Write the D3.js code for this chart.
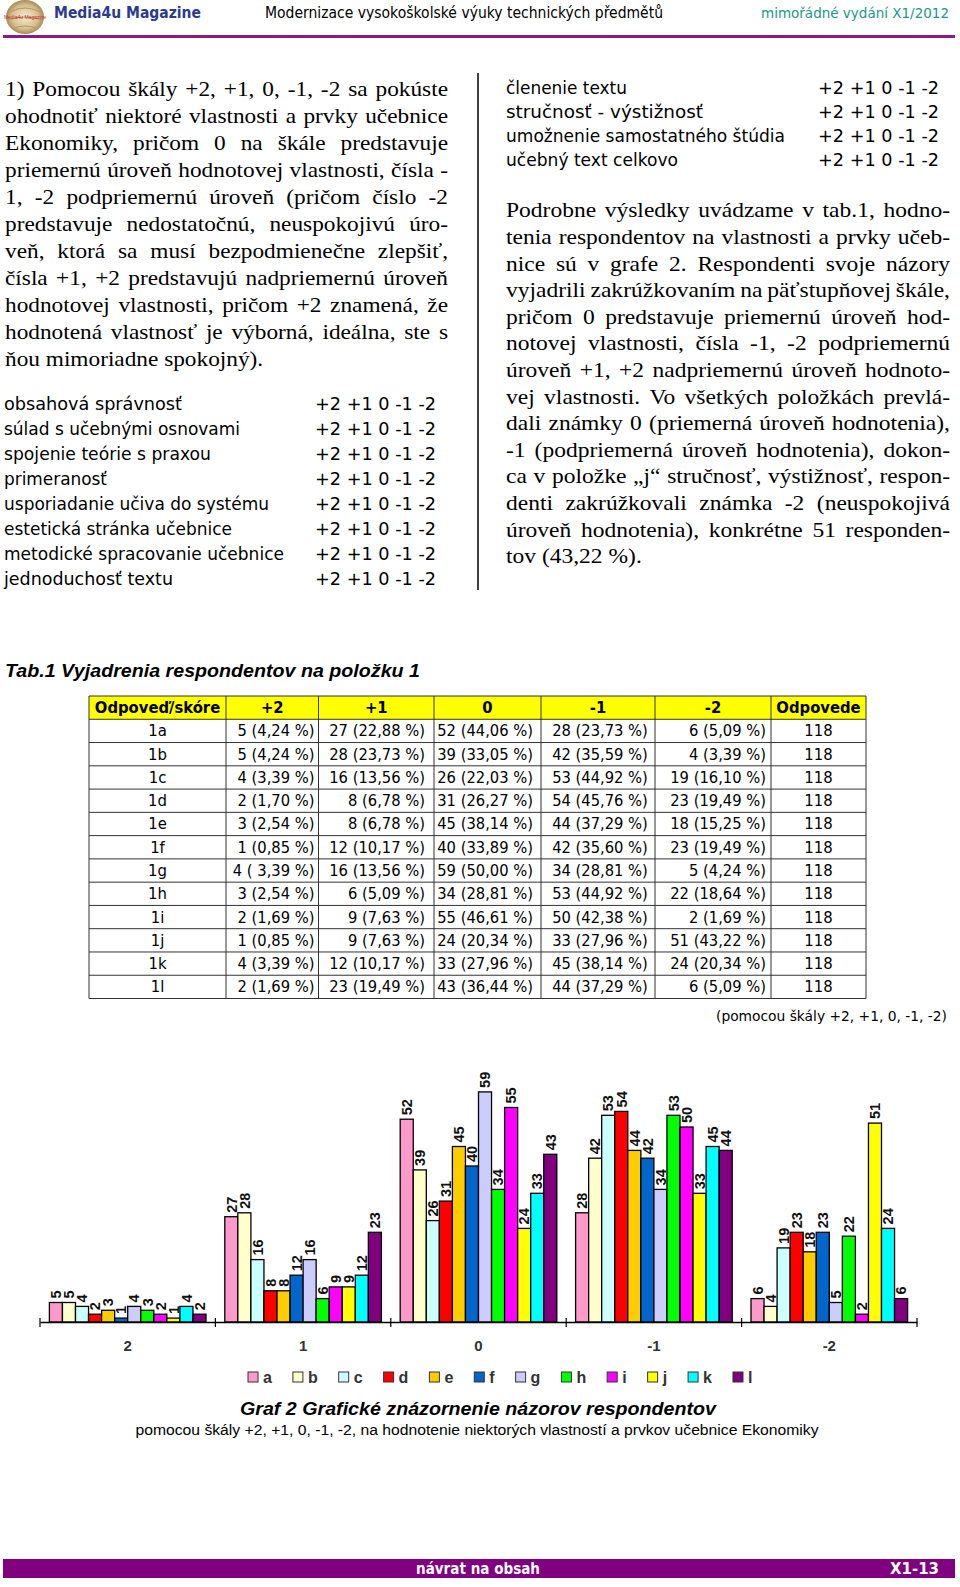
<!DOCTYPE html>
<html><head><meta charset="utf-8">
<script src="https://cdn.jsdelivr.net/npm/d3@7"></script>
<style>body{margin:0;background:#fff}svg{display:block}</style>
</head><body>
<script>
// ---------- DATA ----------
const categories = ["2", "1", "0", "-1", "-2"];
const seriesKeys = ["a","b","c","d","e","f","g","h","i","j","k","l"];
const seriesColors = ["#FF99CC","#FFFFCC","#CCFFFF","#FF0000","#FFCC00","#0066CC","#CCCCFF","#00FF00","#FF00FF","#FFFF00","#00FFFF","#800080"];
const valuesPlus2  = [5,5,4,2,3,1,4,3,2,1,4,2];
const valuesPlus1  = [27,28,16,8,8,12,16,6,9,9,12,23];
const valuesZero   = [52,39,26,31,45,40,59,34,55,24,33,43];
const valuesMinus1 = [28,42,53,54,44,42,34,53,50,33,45,44];
const valuesMinus2 = [6,4,19,23,18,23,5,22,2,51,24,6];
const pctPlus2  = ["4,24","4,24","3,39","1,70","2,54","0,85"," 3,39","2,54","1,69","0,85","3,39","1,69"];
const pctPlus1  = ["22,88","23,73","13,56","6,78","6,78","10,17","13,56","5,09","7,63","7,63","10,17","19,49"];
const pctZero   = ["44,06","33,05","22,03","26,27","38,14","33,89","50,00","28,81","46,61","20,34","27,96","36,44"];
const pctMinus1 = ["23,73","35,59","44,92","45,76","37,29","35,60","28,81","44,92","42,38","27,96","38,14","37,29"];
const pctMinus2 = ["5,09","3,39","16,10","19,49","15,25","19,49","4,24","18,64","1,69","43,22","20,34","5,09"];
const tableRowLabels = ["1a","1b","1c","1d","1e","1f","1g","1h","1i","1j","1k","1l"];
const tableHeader = ["Odpoveď/skóre","+2","+1","0","-1","-2","Odpovede"];
const respondents = [118,118,118,118,118,118,118,118,118,118,118,118];
const leftParagraph = [
 "1) Pomocou škály +2, +1, 0, -1, -2 sa pokúste",
 "ohodnotiť niektoré vlastnosti a prvky učebnice",
 "Ekonomiky, pričom 0 na škále predstavuje",
 "priemernú úroveň hodnotovej vlastnosti, čísla -",
 "1, -2 podpriemernú úroveň (pričom číslo -2",
 "predstavuje nedostatočnú, neuspokojivú úro-",
 "veň, ktorá sa musí bezpodmienečne zlepšiť,",
 "čísla +1, +2 predstavujú nadpriemernú úroveň",
 "hodnotovej vlastnosti, pričom +2 znamená, že",
 "hodnotená vlastnosť je výborná, ideálna, ste s",
 "ňou mimoriadne spokojný)."
];
const rightParagraph = [
 "Podrobne výsledky uvádzame v tab.1, hodno-",
 "tenia respondentov na vlastnosti a prvky učeb-",
 "nice sú v grafe 2. Respondenti svoje názory",
 "vyjadrili zakrúžkovaním na päťstupňovej škále,",
 "pričom 0 predstavuje priemernú úroveň hod-",
 "notovej vlastnosti, čísla -1, -2 podpriemernú",
 "úroveň +1, +2 nadpriemernú úroveň hodnoto-",
 "vej vlastnosti. Vo všetkých položkách prevlá-",
 "dali známky 0 (priemerná úroveň hodnotenia),",
 "-1 (podpriemerná úroveň hodnotenia), dokon-",
 "ca v položke „j“ stručnosť, výstižnosť, respon-",
 "denti zakrúžkovali známka -2 (neuspokojivá",
 "úroveň hodnotenia), konkrétne 51 responden-",
 "tov (43,22 %)."
];
const leftItems = ["obsahová správnosť","súlad s učebnými osnovami","spojenie teórie s praxou","primeranosť","usporiadanie učiva do systému","estetická stránka učebnice","metodické spracovanie učebnice","jednoduchosť textu"];
const leftItemWidths = [178,236,207,103,265,228,280,169];
const rightItems = ["členenie textu","stručnosť - výstižnosť","umožnenie samostatného štúdia","učebný text celkovo"];
const rightItemWidths = [121,197,279,172];
const scaleText = "+2 +1 0 -1 -2";

// ---------- SETUP ----------
const W = 960, H = 1587;
const svg = d3.select("body").append("svg").attr("width", W).attr("height", H);
svg.append("rect").attr("width", W).attr("height", H).attr("fill", "#fff");
const SERIF = "'Liberation Serif','Times New Roman',serif";
const TAHOMA = "'DejaVu Sans',Verdana,sans-serif";
const ARIAL = "'Liberation Sans',Arial,sans-serif";

function squeeze(sel, f) {
  sel.each(function(){ const w = this.getComputedTextLength(); d3.select(this).attr("textLength", w*f).attr("lengthAdjust","spacingAndGlyphs"); });
  return sel;
}

// ---------- HEADER ----------
const defs = svg.append("defs");
const rg = defs.append("radialGradient").attr("id","logoG");
rg.append("stop").attr("offset","0%").attr("stop-color","#f4ead2");
rg.append("stop").attr("offset","70%").attr("stop-color","#d6bf8e");
rg.append("stop").attr("offset","100%").attr("stop-color","#a88a55");
svg.append("ellipse").attr("cx",25).attr("cy",17).attr("rx",19).attr("ry",17).attr("fill","url(#logoG)");
svg.append("path").attr("d","M10,12 Q25,4 40,12 M8,20 Q25,14 42,20 M14,28 Q25,24 36,28").attr("stroke","#b59765").attr("fill","none").attr("stroke-width",1);
svg.append("text").attr("x",25).attr("y",19).attr("text-anchor","middle").attr("font-family",ARIAL).attr("font-size",5).attr("fill","#c0302a").text("Media4u Magazine");
svg.append("text").attr("x",54).attr("y",17.5).attr("font-family",TAHOMA).attr("font-weight","bold").attr("font-size",15).attr("fill","#2b3a8f").attr("textLength",147).attr("lengthAdjust","spacingAndGlyphs").text("Media4u Magazine");
svg.append("text").attr("x",265).attr("y",17.5).attr("font-family",TAHOMA).attr("font-size",15).attr("fill","#000").attr("textLength",398).attr("lengthAdjust","spacingAndGlyphs").text("Modernizace vysokoškolské výuky technických předmětů");
svg.append("text").attr("x",949).attr("y",17.5).attr("text-anchor","end").attr("font-family",TAHOMA).attr("font-size",14).attr("fill","#17998a").attr("textLength",188).attr("lengthAdjust","spacingAndGlyphs").text("mimořádné vydání X1/2012");
svg.append("line").attr("x1",3).attr("x2",955).attr("y1",36.5).attr("y2",36.5).attr("stroke","#8a1a8a").attr("stroke-width",3);

// ---------- JUSTIFIED PARAGRAPHS ----------
function drawJustified(lines, x, y0, lh, width, k) {
  const g = svg.append("g").attr("transform", `translate(${x},0) scale(${k},1)`)
    .attr("font-family", SERIF).attr("font-size", 21).attr("fill","#000");
  const lw = width / k;
  lines.forEach((line, i) => {
    const t = g.append("text").attr("y", y0 + i*lh);
    if (i === lines.length - 1) { t.attr("x", 0).text(line); return; }
    const words = line.split(" ");
    const widths = words.map(w => { const tmp = g.append("text").text(w); const wd = tmp.node().getComputedTextLength(); tmp.remove(); return wd; });
    const gap = (lw - d3.sum(widths)) / (words.length - 1);
    let cx = 0;
    words.forEach((w, j) => { t.append("tspan").attr("x", cx).text(w); cx += widths[j] + gap; });
  });
}
drawJustified(leftParagraph, 5, 96, 27, 443, 1.11);
drawJustified(rightParagraph, 506, 217.5, 26.6, 444, 1.12);

// divider
svg.append("line").attr("x1",478).attr("x2",478).attr("y1",73).attr("y2",590).attr("stroke","#000").attr("stroke-width",1.5);

// ---------- ITEM LISTS ----------
function drawList(items, widths, x, xs, y0, lh) {
  const g = svg.append("g").attr("font-family", TAHOMA).attr("font-size", 18).attr("fill","#000");
  items.forEach((it, i) => {
    g.append("text").attr("x", x).attr("y", y0 + i*lh).attr("textLength", widths[i]).attr("lengthAdjust","spacingAndGlyphs").text(it);
    g.append("text").attr("x", xs).attr("y", y0 + i*lh).attr("textLength", 121).attr("lengthAdjust","spacingAndGlyphs").text(scaleText);
  });
}
drawList(leftItems, leftItemWidths, 4, 315, 410, 25);
drawList(rightItems, rightItemWidths, 506, 818, 93.5, 24);

// ---------- TABLE ----------
svg.append("text").attr("x",5).attr("y",677).attr("font-family",ARIAL).attr("font-weight","bold").attr("font-style","italic").attr("font-size",17.5).attr("textLength",415).attr("lengthAdjust","spacingAndGlyphs").text("Tab.1 Vyjadrenia respondentov na položku 1");

const colEdges = [89, 226, 318.5, 434, 541, 655, 771, 866];
const rowTop = 696, rowH = 23.27;
const tg = svg.append("g").attr("font-family", TAHOMA).attr("font-size", 15.5);
tg.append("rect").attr("x",colEdges[0]).attr("y",rowTop).attr("width",colEdges[7]-colEdges[0]).attr("height",rowH).attr("fill","#FFFF00");
const counts = [valuesPlus2, valuesPlus1, valuesZero, valuesMinus1, valuesMinus2];
const pcts = [pctPlus2, pctPlus1, pctZero, pctMinus1, pctMinus2];
const aligns = ["end","end","end","middle","end"];
const pads = [4, 9, 8, 0, 5];
tableHeader.forEach((h, c) => {
  squeeze(tg.append("text").attr("x",(colEdges[c]+colEdges[c+1])/2).attr("y",rowTop+rowH/2+5.5).attr("text-anchor","middle").attr("font-weight","bold").text(h), 0.955);
});
tableRowLabels.forEach((lab, r) => {
  const yb = rowTop + (r+1)*rowH + rowH/2 + 5.5;
  squeeze(tg.append("text").attr("x",(colEdges[0]+colEdges[1])/2).attr("y",yb).attr("text-anchor","middle").text(lab), 0.96);
  counts.forEach((arr, c) => {
    const txt = arr[r] + " (" + pcts[c][r] + " %)";
    const a = aligns[c];
    const xx = a === "middle" ? (colEdges[c+1]+colEdges[c+2])/2 + 2 : colEdges[c+2] - pads[c];
    squeeze(tg.append("text").attr("x",xx).attr("y",yb).attr("text-anchor",a).text(txt), 0.95);
  });
  squeeze(tg.append("text").attr("x",(colEdges[6]+colEdges[7])/2).attr("y",yb).attr("text-anchor","middle").text(respondents[r]), 0.96);
});
for (let r = 0; r <= 13; r++) tg.append("line").attr("x1",colEdges[0]).attr("x2",colEdges[7]).attr("y1",rowTop+r*rowH).attr("y2",rowTop+r*rowH).attr("stroke","#333").attr("stroke-width",1);
colEdges.forEach(x => tg.append("line").attr("x1",x).attr("x2",x).attr("y1",rowTop).attr("y2",rowTop+13*rowH).attr("stroke","#333").attr("stroke-width",1));

svg.append("text").attr("x",947).attr("y",1021).attr("text-anchor","end").attr("font-family",TAHOMA).attr("font-size",14).attr("textLength",231).attr("lengthAdjust","spacingAndGlyphs").text("(pomocou škály +2, +1, 0, -1, -2)");

// ---------- CHART ----------
const groups = categories.map((c, i) => ({ cat: c, vals: counts[i] }));
const x0 = d3.scaleBand().domain(categories).range([40, 917]);
const x1 = d3.scaleBand().domain(seriesKeys).range([0, x0.bandwidth()]).paddingOuter(0.72);
const y = d3.scaleLinear().domain([0, 60]).range([1322, 1088]);
const color = d3.scaleOrdinal().domain(seriesKeys).range(seriesColors);

const chart = svg.append("g");
const gg = chart.selectAll("g.grp").data(groups).join("g").attr("class","grp").attr("transform", d => `translate(${x0(d.cat)},0)`);
gg.selectAll("rect").data(d => d.vals.map((v, i) => ({ key: seriesKeys[i], v })))
  .join("rect")
  .attr("x", d => x1(d.key)).attr("width", x1.bandwidth())
  .attr("y", d => y(d.v)).attr("height", d => y(0) - y(d.v))
  .attr("fill", d => color(d.key)).attr("stroke", "#000").attr("stroke-width", 1.3);
gg.selectAll("text.lbl").data(d => d.vals.map((v, i) => ({ key: seriesKeys[i], v })))
  .join("text").attr("class","lbl")
  .attr("transform", d => `translate(${x1(d.key) + x1.bandwidth()/2},${y(d.v) - 4}) rotate(-90)`)
  .attr("dy","0.36em").attr("text-anchor","start")
  .attr("font-family", ARIAL).attr("font-weight","bold").attr("font-size",14.5).attr("fill","#111")
  .text(d => d.v);

const axis = chart.append("g").attr("transform", `translate(0,${y(0)})`)
  .call(d3.axisBottom(x0).tickSize(0).tickSizeOuter(0).tickPadding(18));
axis.select(".domain").attr("stroke","#000").attr("stroke-width",1.3);
axis.selectAll("text").attr("font-family", ARIAL).attr("font-weight","bold").attr("font-size",15).attr("fill","#333");
const bounds = categories.map(c => x0(c)).concat([x0.range()[1]]);
axis.selectAll("line.bt").data(bounds).join("line").attr("class","bt")
  .attr("x1", d => d).attr("x2", d => d).attr("y1", -4).attr("y2", 5).attr("stroke","#000").attr("stroke-width",1.2);

const lg = chart.append("g").attr("font-family", ARIAL).attr("font-weight","bold").attr("font-size",16).attr("fill","#333");
let lx = 248;
seriesKeys.forEach((k) => {
  lg.append("rect").attr("x", lx).attr("y", 1372).attr("width", 10).attr("height", 10).attr("fill", color(k)).attr("stroke","#333").attr("stroke-width",1);
  const t = lg.append("text").attr("x", lx + 15).attr("y", 1382.5).text(k);
  lx += 36 + t.node().getComputedTextLength();
});

svg.append("text").attr("x",478).attr("y",1415).attr("text-anchor","middle").attr("font-family",ARIAL).attr("font-weight","bold").attr("font-style","italic").attr("font-size",17.5).attr("textLength",476).attr("lengthAdjust","spacingAndGlyphs").text("Graf 2 Grafické znázornenie názorov respondentov");
svg.append("text").attr("x",477).attr("y",1435).attr("text-anchor","middle").attr("font-family",ARIAL).attr("font-size",14).attr("textLength",683).attr("lengthAdjust","spacingAndGlyphs").text("pomocou škály +2, +1, 0, -1, -2, na hodnotenie niektorých vlastností a prvkov učebnice Ekonomiky");

// ---------- FOOTER ----------
svg.append("rect").attr("x",3).attr("y",1559).attr("width",952).attr("height",19).attr("fill","#800080");
svg.append("text").attr("x",478).attr("y",1574).attr("text-anchor","middle").attr("font-family",TAHOMA).attr("font-weight","bold").attr("font-size",15).attr("fill","#fff").attr("textLength",124).attr("lengthAdjust","spacingAndGlyphs").text("návrat na obsah");
svg.append("text").attr("x",939).attr("y",1574).attr("text-anchor","end").attr("font-family",TAHOMA).attr("font-weight","bold").attr("font-size",15).attr("fill","#fff").attr("textLength",49).attr("lengthAdjust","spacingAndGlyphs").text("X1-13");
</script>
</body></html>
